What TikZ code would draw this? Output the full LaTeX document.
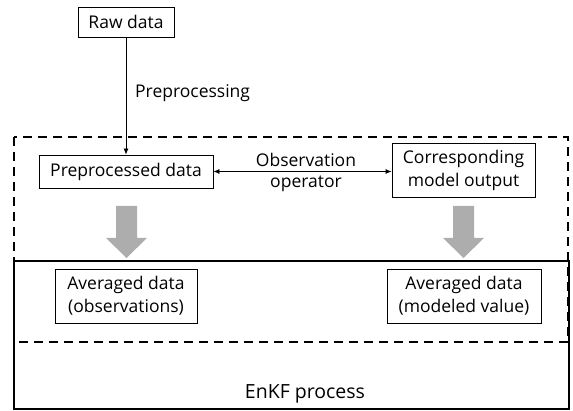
\documentclass[tikz,border=0pt]{standalone}
\usepackage{fontspec}
\setmainfont{Open Sans}
\usetikzlibrary{arrows.meta}
\begin{document}
\begin{tikzpicture}[x=1pt,y=-1pt,
  box/.style={draw,line width=0.8pt,inner sep=0pt,align=center,font=\fontsize{17.5}{23}\selectfont},
  lbl/.style={inner sep=0pt,align=center,font=\fontsize{17.5}{21}\selectfont},
  conn/.style={line width=0.8pt,-{Latex[length=6pt,width=5pt]}},
  biconn/.style={line width=0.8pt,{Latex[length=6pt,width=5pt]}-{Latex[length=6pt,width=5pt]}},
  dashbox/.style={line width=2.6pt,dash pattern=on 9pt off 6pt},
  solidbox/.style={line width=2pt},
  grayarrow/.style={fill=black!32,draw=none}]
\useasboundingbox (0,0) rectangle (573,411);
% frames
\draw[solidbox] (14,261) rectangle (569,409);
\draw[dashbox] (14,137) rectangle (568,342);
% nodes
\node[box,minimum width=96pt,minimum height=30pt] (raw) at (126,22) {Raw data};
\node[box,minimum width=174pt,minimum height=33pt] (pre) at (126,171.5) {Preprocessed data};
\node[box,minimum width=143pt,minimum height=54pt] (corr) at (463.5,170) {Corresponding\\model output};
\node[box,minimum width=142pt,minimum height=54pt] (avgobs) at (126,296) {Averaged data\\(observations)};
\node[box,minimum width=154pt,minimum height=54pt] (avgmod) at (464,296) {Averaged data\\(modeled value)};
\node[lbl,anchor=west] (prep) at (135,93) {Preprocessing};
\node[lbl] (obsop) at (306,172) {Observation\\operator};
\node[inner sep=0pt,font=\fontsize{19.5}{22}\selectfont] (enkf) at (305,394) {EnKF process};
% connectors
\draw[conn] (raw) -- (pre);
\draw[biconn] (pre.east) -- (pre.east -| corr.west);
% gray arrows
\fill[grayarrow] (116,206) -- (137,206) -- (137,238) -- (147,238) -- (126.5,258) -- (106,238) -- (116,238) -- cycle;
\fill[grayarrow] (453,206) -- (474,206) -- (474,238) -- (484,238) -- (463.5,258) -- (443,238) -- (453,238) -- cycle;
\end{tikzpicture}
\end{document}
